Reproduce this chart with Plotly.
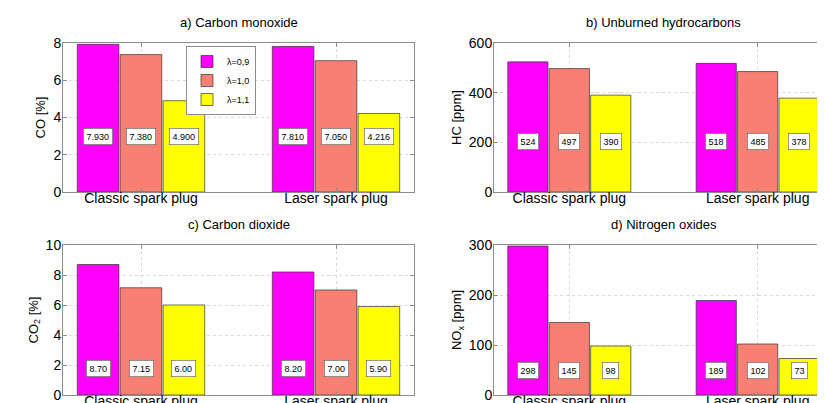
import plotly.graph_objects as go

categories = ["Classic spark plug", "Laser spark plug"]
series_names = ["λ=0,9", "λ=1,0", "λ=1,1"]
colors = ["#FF00FF", "#F88072", "#FFFF00"]

co_values = [[7.930, 7.810], [7.380, 7.050], [4.900, 4.216]]
co_labels = [["7.930", "7.810"], ["7.380", "7.050"], ["4.900", "4.216"]]
hc_values = [[524, 518], [497, 485], [390, 378]]
hc_labels = [["524", "518"], ["497", "485"], ["390", "378"]]
co2_values = [[8.70, 8.20], [7.15, 7.00], [6.00, 5.90]]
co2_labels = [["8.70", "8.20"], ["7.15", "7.00"], ["6.00", "5.90"]]
nox_values = [[298, 189], [145, 102], [98, 73]]
nox_labels = [["298", "189"], ["145", "102"], ["98", "73"]]

panels = [
    dict(title="a) Carbon monoxide", ytitle="CO [%]", vals=co_values, labs=co_labels,
         yrange=[0, 8], dtick=2, labely=3.0),
    dict(title="b) Unburned hydrocarbons", ytitle="HC [ppm]", vals=hc_values, labs=hc_labels,
         yrange=[0, 600], dtick=200, labely=205),
    dict(title="c) Carbon dioxide", ytitle="CO<sub>2</sub> [%]", vals=co2_values, labs=co2_labels,
         yrange=[0, 10], dtick=2, labely=1.8),
    dict(title="d) Nitrogen oxides", ytitle="NO<sub>x</sub> [ppm]", vals=nox_values, labs=nox_labels,
         yrange=[0, 300], dtick=100, labely=50),
]

W, H = 825, 403
# pixel boxes (left, right, top, bottom)
boxes = [(55, 406, 35, 184), (486, 825, 35, 184), (55, 406, 237, 387), (486, 825, 237, 387)]

FONT = "Arial, Liberation Sans, sans-serif"
bargap = 0.34
bargroupgap = 0.03
xpos = [1, 2]

fig = go.Figure()
layout = dict(width=W, height=H, margin=dict(l=0, r=0, t=0, b=0),
              paper_bgcolor="white", plot_bgcolor="white",
              barmode="group", bargap=bargap, bargroupgap=bargroupgap,
              font=dict(family=FONT, size=13, color="black"),
              template="none", annotations=[])

for p, (panel, box) in enumerate(zip(panels, boxes)):
    idx = "" if p == 0 else str(p + 1)
    xa, ya = "x" + idx, "y" + idx
    for i in range(3):
        fig.add_trace(go.Bar(
            x=xpos, y=panel["vals"][i], name=series_names[i],
            marker=dict(color=colors[i], line=dict(color="#333333", width=0.7)),
            xaxis=xa, yaxis=ya, showlegend=(p == 0), hoverinfo="skip"))
    l, r, t, b = box
    layout["xaxis" + idx] = dict(
        domain=[l / W, r / W], range=[0.6, 2.4], tickmode="array", tickvals=xpos,
        ticktext=categories, anchor=ya, showline=True, mirror="ticks", linecolor="#8c8c8c",
        linewidth=1, ticks="inside", ticklen=4, tickcolor="#8c8c8c",
        showgrid=True, gridcolor="#dadada", griddash="dot", zeroline=False,
        tickfont=dict(size=14), automargin=False, ticklabelstandoff=-7)
    layout["yaxis" + idx] = dict(
        domain=[1 - b / H, 1 - t / H], range=panel["yrange"], dtick=panel["dtick"],
        anchor=xa, showline=True, mirror="ticks", linecolor="#8c8c8c", linewidth=1,
        ticks="inside", ticklen=4, tickcolor="#8c8c8c",
        showgrid=True, gridcolor="#dadada", griddash="dot", zeroline=False,
        tickfont=dict(size=14), automargin=False, ticklabelstandoff=-2,
        title=dict(text=panel["ytitle"], font=dict(size=13), standoff=4))
    # subplot title
    layout["annotations"].append(dict(
        text=panel["title"], xref="paper", yref="paper", x=(l + r) / 2 / W,
        y=1 - (t - 11) / H, xanchor="center", yanchor="bottom", showarrow=False,
        font=dict(size=13)))
    # value labels
    group_w = 1 - bargap
    slot = group_w / 3
    for i in range(3):
        for j, cx in enumerate(xpos):
            xc = cx - group_w / 2 + slot * (i + 0.5)
            layout["annotations"].append(dict(
                text=panel["labs"][i][j], x=xc, y=panel["labely"], xref=xa, yref=ya,
                showarrow=False, font=dict(size=9, color="black"),
                bgcolor="white", bordercolor="#555555", borderwidth=0.6, borderpad=3))

layout["legend"] = dict(x=178 / W, y=1 - 38 / H, xanchor="left", yanchor="top",
                        bgcolor="white", bordercolor="#8c8c8c", borderwidth=1,
                        font=dict(size=9), tracegroupgap=0, itemwidth=30)
fig.update_layout(**layout)
fig.write_html("out.html")
